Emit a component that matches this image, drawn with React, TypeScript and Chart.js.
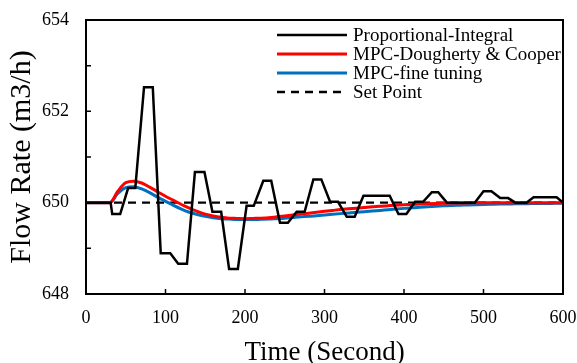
import React, { useEffect, useRef } from "react";
import { Chart, registerables } from "chart.js";

Chart.register(...registerables);

const FONT = "'Liberation Serif', 'Times New Roman', serif";

// Proportional-Integral (time, value)
const piTime = [0, 31, 33, 43, 53, 62, 73, 84, 94, 106, 116, 127, 137, 149, 159, 170, 180, 191, 202, 211, 223, 233, 244, 254, 265, 275, 286, 296, 307, 317, 328, 338, 349, 382, 393, 403, 414, 424, 435, 443, 454, 489, 500, 510, 521, 531, 540, 554, 563, 592, 600];
const piValue = [650, 650, 649.75, 649.75, 650.32, 650.32, 652.53, 652.53, 648.89, 648.89, 648.66, 648.66, 650.67, 650.67, 649.8, 649.8, 648.55, 648.55, 649.93, 649.93, 650.48, 650.48, 649.56, 649.56, 649.8, 649.8, 650.51, 650.51, 650.02, 650.02, 649.69, 649.69, 650.15, 650.15, 649.75, 649.75, 650.02, 650.02, 650.23, 650.23, 650.0, 650.0, 650.25, 650.25, 650.1, 650.1, 650.0, 650.0, 650.12, 650.12, 650.0];

// MPC curves sampled every 10 s
const mpcTime = [0, 10, 20, 30, 40, 50, 60, 70, 80, 90, 100, 110, 120, 130, 140, 150, 160, 170, 180, 190, 200, 210, 220, 230, 240, 250, 260, 270, 280, 290, 300, 310, 320, 330, 340, 350, 360, 370, 380, 390, 400, 410, 420, 430, 440, 450, 460, 470, 480, 490, 500, 510, 520, 530, 540, 550, 560, 570, 580, 590, 600];
const mpcDC = [650, 650, 650, 650, 650.25, 650.44, 650.47, 650.43, 650.34, 650.24, 650.14, 650.05, 649.96, 649.88, 649.81, 649.75, 649.71, 649.68, 649.66, 649.655, 649.65, 649.655, 649.66, 649.67, 649.69, 649.71, 649.73, 649.75, 649.77, 649.79, 649.81, 649.83, 649.85, 649.865, 649.88, 649.895, 649.91, 649.92, 649.935, 649.945, 649.955, 649.96, 649.97, 649.975, 649.98, 649.985, 649.99, 649.99, 649.995, 650, 650, 650, 650, 650, 650, 650, 650, 650, 650, 650, 650];
const mpcFine = [650, 650, 650, 650, 650.2, 650.33, 650.35, 650.3, 650.22, 650.12, 650.03, 649.94, 649.86, 649.79, 649.74, 649.7, 649.67, 649.65, 649.64, 649.63, 649.63, 649.63, 649.635, 649.64, 649.65, 649.66, 649.675, 649.69, 649.7, 649.715, 649.73, 649.745, 649.76, 649.775, 649.79, 649.8, 649.815, 649.83, 649.845, 649.86, 649.875, 649.89, 649.9, 649.91, 649.92, 649.93, 649.94, 649.945, 649.95, 649.955, 649.96, 649.965, 649.97, 649.97, 649.975, 649.975, 649.98, 649.98, 649.98, 649.985, 649.985];

const setPointTime = [0, 600];
const setPointValue = [650, 650];

const seriesNames = ["Proportional-Integral", "MPC-Dougherty & Cooper", "MPC-fine tuning", "Set Point"];
const seriesColors = ["#000000", "#ff0000", "#0070c0", "#000000"];

const xTickMin = 0;
const xTickMax = 600;
const xTickStep = 100;
const yTickMin = 648;
const yTickMax = 654;

const toPoints = (xs: number[], ys: number[]) => xs.map((x, i) => ({ x, y: ys[i] }));

const framePlugin = {
  id: "frame",
  afterDraw(chart: any) {
    const { ctx, chartArea } = chart;
    const { left, right, top, bottom } = chartArea;
    ctx.save();
    ctx.strokeStyle = "#000";
    ctx.lineWidth = 2;
    ctx.strokeRect(left, top, right - left, bottom - top);
    // inward ticks
    const xs = chart.scales.x;
    const ys = chart.scales.y;
    ctx.lineWidth = 1.5;
    ctx.beginPath();
    xs.ticks.forEach((t: any) => {
      const px = xs.getPixelForValue(t.value);
      ctx.moveTo(px, bottom);
      ctx.lineTo(px, bottom - 5);
    });
    ys.ticks.forEach((t: any) => {
      const py = ys.getPixelForValue(t.value);
      ctx.moveTo(left, py);
      ctx.lineTo(left + 5, py);
    });
    ctx.stroke();

    // legend
    const lineX0 = right - 286;
    const lineX1 = right - 216;
    const textX = right - 210;
    const rowY = [top + 15, top + 34, top + 53, top + 72];
    ctx.font = `19px ${FONT}`;
    ctx.textBaseline = "middle";
    ctx.textAlign = "left";
    seriesNames.forEach((name, i) => {
      ctx.beginPath();
      ctx.strokeStyle = seriesColors[i];
      ctx.lineWidth = i === 0 || i === 3 ? 2.5 : 3;
      ctx.setLineDash(i === 3 ? [8, 6] : []);
      ctx.moveTo(lineX0, rowY[i]);
      ctx.lineTo(lineX1, rowY[i]);
      ctx.stroke();
      ctx.setLineDash([]);
      ctx.fillStyle = "#000";
      ctx.fillText(name, textX, rowY[i] + 1);
    });
    ctx.restore();
  },
};

export default function App() {
  const canvasRef = useRef<HTMLCanvasElement | null>(null);

  useEffect(() => {
    document.body.style.margin = "0";
    const canvas = canvasRef.current;
    if (!canvas) return;
    const chart = new Chart(canvas, {
      type: "line",
      data: {
        datasets: [
          {
            label: seriesNames[0],
            data: toPoints(piTime, piValue),
            borderColor: seriesColors[0],
            borderWidth: 2.5,
            pointRadius: 0,
            tension: 0,
            order: 0,
          },
          {
            label: seriesNames[1],
            data: toPoints(mpcTime, mpcDC),
            borderColor: seriesColors[1],
            borderWidth: 3,
            pointRadius: 0,
            cubicInterpolationMode: "monotone",
            order: 1,
          },
          {
            label: seriesNames[2],
            data: toPoints(mpcTime, mpcFine),
            borderColor: seriesColors[2],
            borderWidth: 3,
            pointRadius: 0,
            cubicInterpolationMode: "monotone",
            order: 2,
          },
          {
            label: seriesNames[3],
            data: toPoints(setPointTime, setPointValue),
            borderColor: seriesColors[3],
            borderWidth: 2.2,
            borderDash: [8, 6],
            pointRadius: 0,
            order: 3,
          },
        ],
      },
      options: {
        responsive: false,
        animation: false,
        layout: { padding: { top: 20, right: 14, left: 0, bottom: 0 } },
        plugins: {
          legend: { display: false },
          tooltip: { enabled: false },
        },
        scales: {
          x: {
            type: "linear",
            min: xTickMin,
            max: xTickMax,
            ticks: {
              stepSize: xTickStep,
              color: "#000",
              font: { family: FONT, size: 18 },
              padding: 13,
              maxRotation: 0,
            },
            grid: { display: false, drawTicks: false },
            border: { display: false },
            title: {
              display: true,
              text: "Time (Second)",
              color: "#000",
              font: { family: FONT, size: 27 },
              padding: { top: 0, bottom: -6 },
            },
            afterFit: (s: any) => {
              s.height = 69;
              s.paddingLeft = 0;
              s.paddingRight = 0;
            },
          },
          y: {
            min: yTickMin,
            max: yTickMax,
            ticks: {
              stepSize: 1,
              color: "#000",
              font: { family: FONT, size: 18 },
              padding: 17,
              callback: (v: any) => (Number(v) % 2 === 0 ? String(v) : ""),
            },
            grid: { display: false, drawTicks: false },
            border: { display: false },
            title: {
              display: true,
              text: "Flow Rate (m3/h)",
              color: "#000",
              font: { family: FONT, size: 30 },
              padding: { top: 4, bottom: 0 },
            },
            afterFit: (s: any) => {
              s.width = 86;
              s.paddingTop = 0;
              s.paddingBottom = 0;
            },
          },
        },
      },
      plugins: [framePlugin],
    });
    return () => chart.destroy();
  }, []);

  return (
    <div style={{ width: 577, height: 363 }}>
      <canvas ref={canvasRef} width={577} height={363} style={{ display: "block" }} />
    </div>
  );
}
